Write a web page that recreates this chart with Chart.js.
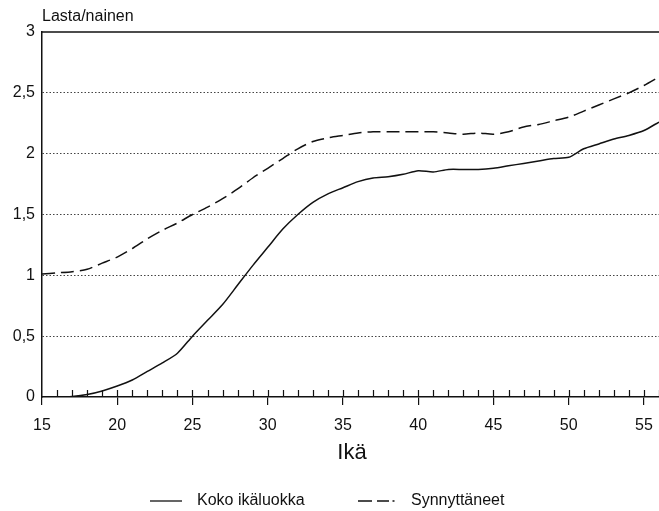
<!DOCTYPE html>
<html>
<head>
<meta charset="utf-8">
<script src="https://cdn.jsdelivr.net/npm/chart.js@4.4.1/dist/chart.umd.min.js"></script>
<style>
html,body{margin:0;padding:0;background:#fff;}
canvas{display:block;}
</style>
</head>
<body>
<canvas id="c" width="659" height="511"></canvas>
<script>
const ages = [15,16,17,18,19,20,21,22,23,24,25,26,27,28,29,30,31,32,33,34,35,36,37,38,39,40,41,42,43,44,45,46,47,48,49,50,51,52,53,54,55,56];
const kokoIkaluokka = [0,0,0.005,0.02,0.05,0.09,0.14,0.21,0.28,0.36,0.50,0.63,0.76,0.92,1.08,1.23,1.38,1.50,1.60,1.67,1.72,1.77,1.80,1.81,1.83,1.86,1.85,1.87,1.87,1.87,1.88,1.90,1.92,1.94,1.96,1.97,2.04,2.08,2.12,2.15,2.19,2.26];
const synnyttaneet = [1.01,1.02,1.03,1.05,1.10,1.15,1.22,1.30,1.37,1.43,1.50,1.56,1.63,1.71,1.80,1.88,1.96,2.04,2.10,2.13,2.15,2.17,2.18,2.18,2.18,2.18,2.18,2.17,2.16,2.17,2.16,2.18,2.22,2.24,2.27,2.30,2.35,2.40,2.45,2.50,2.56,2.63];
const seriesNames = ['Koko ikäluokka','Synnyttäneet'];
const yTitle = 'Lasta/nainen';
const xTitle = 'Ikä';
const xLabelTicks = [15,20,25,30,35,40,45,50,55];
const yTicks = [0,0.5,1,1.5,2,2.5,3];

const FONT = "'Liberation Sans', Arial, Helvetica, sans-serif";

const extras = {
  id: 'extras',
  afterDatasetsDraw(chart) {
    const ctx = chart.ctx;
    const xs = chart.scales.x, ys = chart.scales.y;
    const area = chart.chartArea;
    ctx.save();
    // top border at y = 3
    ctx.strokeStyle = '#111';
    ctx.lineWidth = 1.5;
    ctx.beginPath();
    const yTop = ys.getPixelForValue(3);
    ctx.moveTo(area.left, yTop);
    ctx.lineTo(area.right, yTop);
    ctx.stroke();
    // inward ticks on x axis
    ctx.lineWidth = 1.2;
    ctx.beginPath();
    for (let a = 16; a <= 56; a++) {
      const px = Math.round(xs.getPixelForValue(a)) + 0.5;
      ctx.moveTo(px, area.bottom);
      ctx.lineTo(px, area.bottom - 7);
    }
    ctx.stroke();
    // y title
    ctx.fillStyle = '#111';
    ctx.font = '16px ' + FONT;
    ctx.textAlign = 'left';
    ctx.textBaseline = 'middle';
    ctx.fillText(yTitle, 42, 17);
    // x title
    ctx.font = '22px ' + FONT;
    ctx.textAlign = 'center';
    ctx.fillText(xTitle, 352, 453);
    // legend
    ctx.font = '16px ' + FONT;
    ctx.textAlign = 'left';
    const ly = 501;
    ctx.lineWidth = 1.3;
    ctx.beginPath();
    ctx.moveTo(150, ly); ctx.lineTo(182, ly);
    ctx.stroke();
    ctx.fillText(seriesNames[0], 197, ly);
    ctx.beginPath();
    ctx.moveTo(358, ly); ctx.lineTo(372, ly);
    ctx.moveTo(377, ly); ctx.lineTo(389, ly);
    ctx.moveTo(392.5, ly); ctx.lineTo(394.5, ly);
    ctx.stroke();
    ctx.fillText(seriesNames[1], 411, ly);
    ctx.restore();
  }
};

new Chart(document.getElementById('c'), {
  type: 'line',
  data: {
    datasets: [
      {
        label: seriesNames[0],
        data: ages.map((a, i) => ({x: a, y: kokoIkaluokka[i]})),
        borderColor: '#111',
        borderWidth: 1.5,
        pointRadius: 0,
        tension: 0.25,
        fill: false
      },
      {
        label: seriesNames[1],
        data: ages.map((a, i) => ({x: a, y: synnyttaneet[i]})),
        borderColor: '#111',
        borderWidth: 1.5,
        borderDash: [13, 6],
        pointRadius: 0,
        tension: 0.25,
        fill: false
      }
    ]
  },
  options: {
    responsive: false,
    animation: false,
    layout: { padding: { top: 32, left: 0, right: 0, bottom: 74 } },
    plugins: { legend: { display: false }, tooltip: { enabled: false } },
    scales: {
      x: {
        type: 'linear',
        min: 15, max: 56,
        afterFit(scale) { scale.height = 40; scale.paddingRight = 0; scale.paddingLeft = 0; },
        afterBuildTicks(scale) {
          scale.ticks = ages.map(a => ({value: a}));
        },
        ticks: {
          autoSkip: false,
          maxRotation: 0,
          padding: 11,
          color: '#111',
          font: { family: FONT, size: 16 },
          callback: (v) => xLabelTicks.includes(v) ? String(v) : ''
        },
        grid: {
          drawOnChartArea: false,
          drawTicks: true,
          tickLength: 8,
          lineWidth: 1.2,
          color: (c) => (c.tick && xLabelTicks.includes(c.tick.value)) ? '#111' : 'rgba(0,0,0,0)'
        },
        border: { display: true, color: '#111', width: 1.5 }
      },
      y: {
        min: 0, max: 3,
        afterFit(scale) { scale.width = 42; },
        afterBuildTicks(scale) {
          scale.ticks = yTicks.map(v => ({value: v}));
        },
        ticks: {
          padding: 7,
          color: '#111',
          font: { family: FONT, size: 16 },
          callback: (v) => String(v).replace('.', ',')
        },
        grid: {
          drawTicks: false,
          color: (c) => (c.tick && (c.tick.value === 0 || c.tick.value === 3)) ? 'rgba(0,0,0,0)' : '#444',
          lineWidth: 1
        },
        border: { display: true, color: '#111', width: 1.5, dash: [1.5, 2] }
      }
    }
  },
  plugins: [extras]
});
</script>
</body>
</html>
